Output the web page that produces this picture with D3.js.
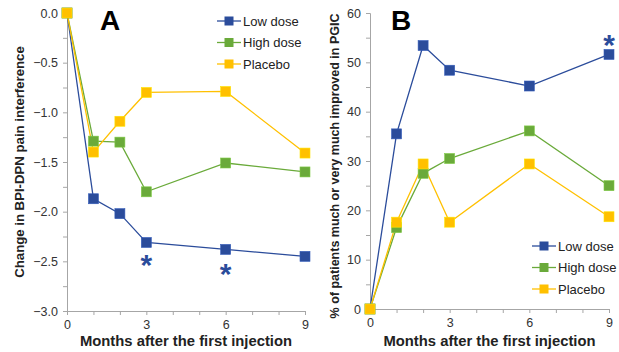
<!DOCTYPE html>
<html>
<head>
<meta charset="utf-8">
<script src="https://cdn.jsdelivr.net/npm/d3@7"></script>
<style>
  body { margin: 0; background: #fff; }
  svg { display: block; font-family: Arial, "Liberation Sans", sans-serif; }
</style>
</head>
<body>
<div id="chart"></div>
<script>
const months = [0, 1, 2, 3, 6, 9];
const seriesNames = ['Low dose', 'High dose', 'Placebo'];
const seriesColors = ['#2b4c9b', '#6aaa3a', '#ffc000'];

// panel A: change in BPI-DPN pain interference
const lowA = [0, -1.87, -2.02, -2.31, -2.38, -2.45];
const highA = [0, -1.29, -1.30, -1.80, -1.51, -1.60];
const placeboA = [0, -1.40, -1.09, -0.80, -0.79, -1.41];
const yTicksA = [0, -0.5, -1.0, -1.5, -2.0, -2.5, -3.0];
const starsA = [[3, -2.47], [6, -2.56]];

// panel B: % much or very much improved in PGIC
const lowB = [0, 35.5, 53.4, 48.4, 45.2, 51.6];
const highB = [0, 16.5, 27.5, 30.5, 36.1, 25.0];
const placeboB = [0, 17.6, 29.4, 17.6, 29.4, 18.7];
const yTicksB = [0, 10, 20, 30, 40, 50, 60];
const starsB = [[9, 55]];

const xTicks = [0, 3, 6, 9];

const width = 619, height = 352;
const svg = d3.select('#chart').append('svg')
  .attr('width', width)
  .attr('height', height);

const panel = ({
  left, right, top, bottom, yDomain, yTicks, yFormat, series, stars,
  letter, letterX, yLabel, yLabelX, yLabelY, legendX, legendY
}) => {
  const x = d3.scaleLinear([0, 9], [left, right]);
  const y = d3.scaleLinear(yDomain, [bottom, top]);
  const g = svg.append('g');

  // axes (gray lines, minor ticks between labels)
  const yMinor = d3.range(0, yTicks.length * 2 - 1)
    .map(i => yDomain[0] + (yDomain[1] - yDomain[0]) * i / ((yTicks.length - 1) * 2));
  g.append('g')
    .attr('transform', `translate(${left},0)`)
    .call(d3.axisLeft(y).tickValues(yMinor).tickSize(4).tickFormat(''))
    .call(a => a.selectAll('line,path').attr('stroke', '#a6a6a6'));
  g.append('g')
    .attr('transform', `translate(${left},0)`)
    .call(d3.axisLeft(y).tickValues(yTicks).tickSize(0).tickPadding(9).tickFormat(yFormat))
    .call(a => a.select('.domain').remove())
    .call(a => a.selectAll('text').attr('font-size', 12.5).attr('fill', '#333')
      .attr('font-family', 'Arial, "Liberation Sans", sans-serif'));

  g.append('g')
    .attr('transform', `translate(0,${bottom})`)
    .call(d3.axisBottom(x).tickValues(d3.range(0, 10)).tickSize(4).tickFormat(''))
    .call(a => a.selectAll('line,path').attr('stroke', '#a6a6a6'));
  g.append('g')
    .attr('transform', `translate(0,${bottom})`)
    .call(d3.axisBottom(x).tickValues(xTicks).tickSize(0).tickPadding(9))
    .call(a => a.select('.domain').remove())
    .call(a => a.selectAll('text').attr('font-size', 12.5).attr('fill', '#333')
      .attr('font-family', 'Arial, "Liberation Sans", sans-serif'));

  // lines and markers
  const line = d3.line().x((d, i) => x(months[i])).y(d => y(d));
  series.forEach((vals, k) => {
    g.append('path')
      .attr('d', line(vals))
      .attr('fill', 'none')
      .attr('stroke', seriesColors[k])
      .attr('stroke-width', 1.3);
  });
  series.forEach((vals, k) => {
    g.append('g').selectAll('rect')
      .data(vals)
      .join('rect')
      .attr('x', (d, i) => x(months[i]) - 5)
      .attr('y', d => y(d) - 5)
      .attr('width', 10)
      .attr('height', 10)
      .attr('fill', seriesColors[k])
      .attr('stroke', d3.color(seriesColors[k]).brighter(0.5))
      .attr('stroke-width', 0.6);
  });

  // asterisks, centred on the given value
  g.append('g').selectAll('text')
    .data(stars)
    .join('text')
    .attr('x', d => x(d[0]))
    .attr('y', d => y(d[1]) + 17)
    .attr('text-anchor', 'middle')
    .attr('font-size', 30)
    .attr('font-weight', 'bold')
    .attr('fill', seriesColors[0])
    .text('*');

  g.append('text')
    .attr('x', letterX)
    .attr('y', 30)
    .attr('font-size', 28)
    .attr('font-weight', 'bold')
    .attr('fill', '#000')
    .text(letter);

  g.append('text')
    .attr('transform', `translate(${yLabelX},${yLabelY}) rotate(-90)`)
    .attr('text-anchor', 'middle')
    .attr('font-size', yLabel.length > 40 ? 12.5 : 13.2)
    .attr('font-weight', 'bold')
    .attr('fill', '#222')
    .text(yLabel);

  g.append('text')
    .attr('x', (left + right) / 2)
    .attr('y', 346)
    .attr('text-anchor', 'middle')
    .attr('font-size', 14.8)
    .attr('font-weight', 'bold')
    .attr('fill', '#222')
    .text('Months after the first injection');

  // legend
  const leg = g.append('g').selectAll('g')
    .data(seriesNames)
    .join('g')
    .attr('transform', (d, i) => `translate(${legendX},${legendY + i * 21.5})`);
  leg.append('line')
    .attr('x1', 0).attr('x2', 24)
    .attr('stroke', (d, i) => seriesColors[i])
    .attr('stroke-width', 1.3);
  leg.append('rect')
    .attr('x', 7.5).attr('y', -4.5)
    .attr('width', 9).attr('height', 9)
    .attr('fill', (d, i) => seriesColors[i]);
  leg.append('text')
    .attr('x', 26)
    .attr('dy', '0.35em')
    .attr('font-size', 13)
    .attr('fill', '#222')
    .text(d => d);
};

panel({
  left: 67, right: 305, top: 13, bottom: 311,
  yDomain: [-3, 0], yTicks: yTicksA, yFormat: d3.format('.1f'),
  series: [lowA, highA, placeboA], stars: starsA,
  letter: 'A', letterX: 100,
  yLabel: 'Change in BPI-DPN pain interference', yLabelX: 24, yLabelY: 162,
  legendX: 217, legendY: 21
});

panel({
  left: 370, right: 609, top: 13, bottom: 309,
  yDomain: [0, 60], yTicks: yTicksB, yFormat: d3.format('d'),
  series: [lowB, highB, placeboB], stars: starsB,
  letter: 'B', letterX: 391,
  yLabel: '% of patients much or very much improved in PGIC', yLabelX: 339, yLabelY: 166,
  legendX: 532, legendY: 246
});
</script>
</body>
</html>
